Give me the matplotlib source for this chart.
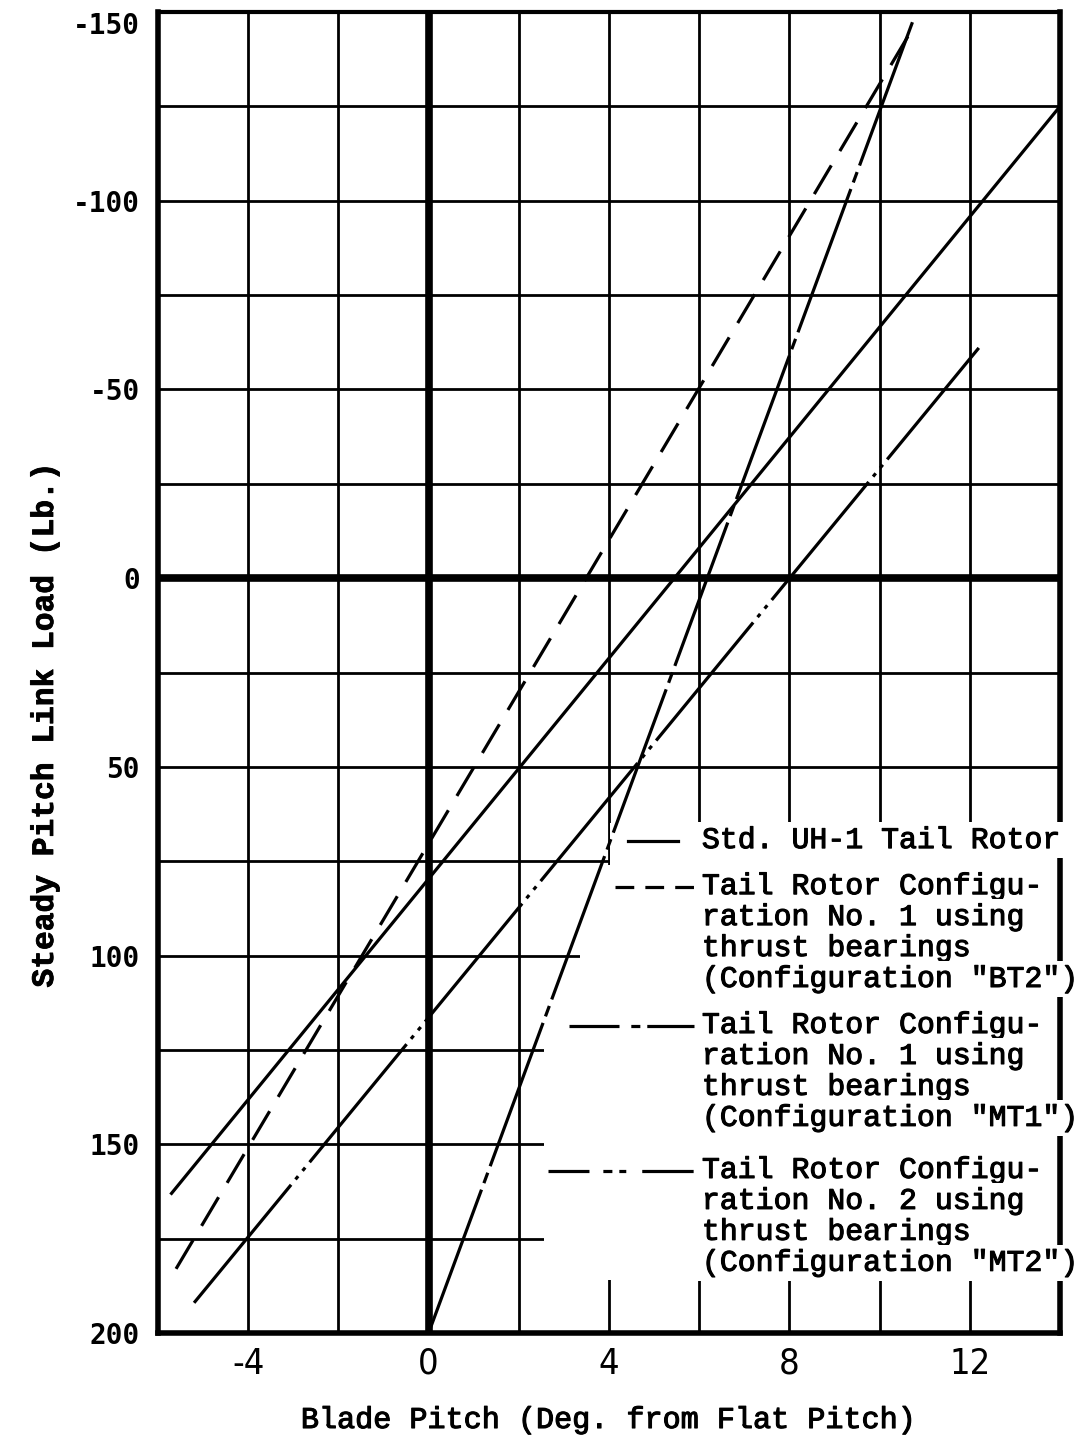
import matplotlib
matplotlib.use('Agg')
import matplotlib.pyplot as plt
import matplotlib.patheffects as pe
from matplotlib import font_manager as fm
from matplotlib.patches import Rectangle

# steady pitch link load (lb) against blade pitch (deg from flat pitch)
std_pitch = [-5.7, 14.0]
std_load = [163.0, -125.0]
bt2_pitch = [-5.6, 10.8]
bt2_load = [183.0, -147.0]
mt1_pitch = [0.0, 10.75]
mt1_load = [200.0, -148.0]
mt2_pitch = [-5.2, 12.2]
mt2_load = [192.0, -61.0]

x_ticks = [-4, 0, 4, 8, 12]
y_ticks = [-150, -100, -50, 0, 50, 100, 150, 200]

legend_std = ["Std. UH-1 Tail Rotor"]
legend_bt2 = ["Tail Rotor Configu-", "ration No. 1 using", "thrust bearings",
              '(Configuration "BT2")']
legend_mt1 = ["Tail Rotor Configu-", "ration No. 1 using", "thrust bearings",
              '(Configuration "MT1")']
legend_mt2 = ["Tail Rotor Configu-", "ration No. 2 using", "thrust bearings",
              '(Configuration "MT2")']

plt.rcParams['axes.unicode_minus'] = False
plt.rcParams['lines.scale_dashes'] = False

# narrow face for the pitch numbers if one is around, else the typewriter face
typewriter = 'Liberation Mono'
narrow_files = [f.fname for f in fm.fontManager.ttflist
                if ('Narrow' in f.fname or 'Condensed' in f.fname)
                and f.style == 'normal' and f.weight in (400, 'normal', 'regular')]
narrow_files.sort(key=lambda p: 0 if 'Liberation' in p else 1)
if narrow_files:
    xtick_font = fm.FontProperties(fname=narrow_files[0], size=26)
else:
    xtick_font = fm.FontProperties(family=typewriter, size=23)
ink = [pe.withStroke(linewidth=0.8, foreground='black')]

fig = plt.figure(figsize=(10.82, 14.44), dpi=100)
ax = fig.add_axes([158 / 1082, 1 - 1333 / 1444, 902 / 1082, 1321 / 1444])
ax.set_xlim(-6, 14)
ax.set_ylim(200, -150)

# grid: every 2 deg and every 25 lb, labels only on the major ticks
ax.set_xticks(x_ticks)
ax.set_xticklabels([str(v) for v in x_ticks], fontproperties=xtick_font)
ax.set_xticks(range(-6, 15, 2), minor=True)
ax.set_yticks(y_ticks)
ax.set_yticklabels([str(v) for v in y_ticks], fontfamily='DejaVu Sans Mono',
                   fontweight='bold', fontsize=20)
ax.set_yticks(range(-150, 201, 25), minor=True)
ax.get_yticklabels()[0].set_va('top')
ax.tick_params(which='both', length=0)
ax.tick_params(axis='y', pad=13)
ax.tick_params(axis='x', pad=10)
ax.grid(True, which='both', color='black', linewidth=2.0)
ax.set_axisbelow(True)

for side in ['left', 'right', 'bottom']:
    ax.spines[side].set_linewidth(4)
ax.spines['top'].set_linewidth(3)

ax.axhline(0, color='black', linewidth=5.5, zorder=1.2)
ax.axvline(0, color='black', linewidth=5.5, zorder=1.2)

# blank area behind the key
for x0, y0, w, h in [(4.03, 65, 10.5, 121), (3.36, 76, 0.67, 110), (2.55, 112, 0.81, 74)]:
    ax.add_patch(Rectangle((x0, y0), w, h, facecolor='white', edgecolor='none', zorder=1.3))

lw = 2.3
ax.plot(std_pitch, std_load, color='black', lw=lw, zorder=2)
ax.plot(bt2_pitch, bt2_load, color='black', lw=lw, dashes=(24, 12), zorder=2)
ax.plot(mt1_pitch, mt1_load, color='black', lw=lw, dashes=(110, 5, 8, 5), zorder=2)
ax.plot(mt2_pitch, mt2_load, color='black', lw=lw, dashes=(110, 5, 3, 5, 3, 5), zorder=2)

# hand-drawn key
keys = [
    (legend_std, (4.42, 5.53), 69.7, '-'),
    (legend_bt2, (4.13, 5.91), 81.9, (0, (13.5, 8))),
    (legend_mt1, (3.12, 5.89), 118.7, (0, (36, 8.5, 6.5, 5))),
    (legend_mt2, (2.65, 5.89), 157.1, (7.5, (37, 10, 6.5, 5, 5, 11.5))),
]
for lines, (k0, k1), y, style in keys:
    ax.plot([k0, k1], [y, y], color='black', lw=lw, linestyle=style, zorder=3)
    for i, txt in enumerate(lines):
        ax.text(6.06, y - 0.3 + i * 8.2, txt, fontfamily=typewriter, fontsize=21.5,
                ha='left', va='center', path_effects=ink, zorder=3,
                bbox=dict(facecolor='white', edgecolor='none', pad=3))

ax.set_xlabel('Blade Pitch (Deg. from Flat Pitch)', fontfamily=typewriter,
              fontsize=21.7, va='center', path_effects=ink)
ax.xaxis.set_label_coords(0.5, (1333 - 1420) / 1321)
ax.set_ylabel('Steady Pitch Link Load (Lb.)', fontfamily=typewriter, fontweight='bold',
              fontsize=22.5, va='center', path_effects=[pe.withStroke(linewidth=0.6, foreground='black')])
ax.yaxis.set_label_coords((45 - 158) / 902, (1333 - 725) / 1321)

fig.savefig('out.png', dpi=100, facecolor='white')
